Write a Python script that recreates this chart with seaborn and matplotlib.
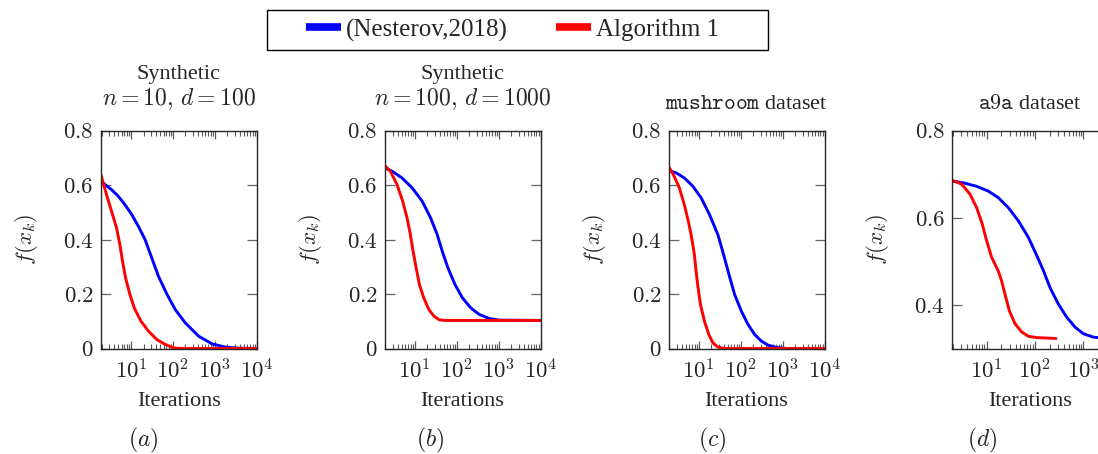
import numpy as np
import pandas as pd
import matplotlib
matplotlib.use("Agg")
import matplotlib.pyplot as plt
import seaborn as sns
from matplotlib.ticker import FixedLocator, FixedFormatter, NullFormatter
from matplotlib.lines import Line2D
from matplotlib.patches import Rectangle

# ---------------- data ----------------
methods = ["(Nesterov,2018)", "Algorithm 1"]
colors = {"(Nesterov,2018)": "#0000ff", "Algorithm 1": "#ff0000"}

# panel (a): Synthetic n=10, d=100
a_nest_x = [1.9, 3.44, 4.97, 7.18, 10.4, 15.0, 21.7, 31.3, 45.3, 71.8, 114, 198, 413, 863, 1803, 3767, 10000]
a_nest_y = [0.614, 0.583, 0.559, 0.528, 0.492, 0.449, 0.400, 0.333, 0.265, 0.200, 0.143, 0.094, 0.045, 0.017, 0.005, 0.001, 0.0]
a_alg_x = [1.9, 2.61, 3.44, 4.53, 5.44, 6.31, 7.45, 9.46, 12.0, 17.4, 26.1, 41.3, 65.5, 104, 164, 10000]
a_alg_y = [0.641, 0.565, 0.504, 0.443, 0.382, 0.320, 0.259, 0.198, 0.149, 0.100, 0.064, 0.033, 0.015, 0.002, 0.0, 0.0]

# panel (b): Synthetic n=100, d=1000
b_nest_x = [1.9, 2.86, 4.97, 8.63, 15.0, 23.8, 34.4, 45.3, 61.9, 91.2, 137, 217, 344, 597, 1038, 10000]
b_nest_y = [0.663, 0.651, 0.626, 0.590, 0.541, 0.480, 0.418, 0.357, 0.296, 0.235, 0.186, 0.149, 0.125, 0.110, 0.104, 0.103]
b_alg_x = [1.9, 2.61, 3.77, 5.15, 6.55, 7.87, 9.12, 10.8, 12.9, 16.4, 21.7, 28.6, 37.7, 49.7, 10000]
b_alg_y = [0.672, 0.651, 0.602, 0.541, 0.480, 0.418, 0.357, 0.296, 0.235, 0.186, 0.143, 0.119, 0.106, 0.103, 0.103]

# panel (c): mushroom dataset
c_nest_x = [1.9, 2.86, 4.53, 7.18, 11.4, 18.0, 28.6, 39.1, 52.5, 71.8, 104, 150, 217, 313, 453, 718, 1247, 10000]
c_nest_y = [0.653, 0.645, 0.626, 0.596, 0.553, 0.492, 0.418, 0.345, 0.272, 0.198, 0.137, 0.088, 0.051, 0.027, 0.012, 0.004, 0.0, 0.0]
c_alg_x = [1.9, 2.47, 3.44, 4.53, 5.65, 6.79, 7.87, 8.63, 9.64, 11.0, 13.7, 17.4, 21.7, 28.6, 41.3, 10000]
c_alg_y = [0.668, 0.639, 0.590, 0.528, 0.467, 0.406, 0.345, 0.284, 0.223, 0.161, 0.100, 0.051, 0.021, 0.005, 0.0, 0.0]

# panel (d): a9a dataset
d_nest_x = [1.92, 3.29, 6.21, 10.8, 17.4, 28.1, 45.2, 72.8, 105, 149, 204, 304, 452, 673, 1000, 1610, 2042, 3240]
d_nest_y = [0.684, 0.680, 0.672, 0.661, 0.646, 0.623, 0.593, 0.555, 0.517, 0.479, 0.440, 0.402, 0.372, 0.349, 0.334, 0.326, 0.325, 0.324]
d_alg_x = [1.92, 3.04, 4.52, 6.21, 8.13, 10.0, 12.7, 17.4, 20.4, 23.9, 29.4, 38.5, 53.0, 72.8, 108, 272]
d_alg_y = [0.686, 0.677, 0.654, 0.623, 0.585, 0.547, 0.509, 0.478, 0.455, 0.425, 0.387, 0.357, 0.338, 0.328, 0.325, 0.323]

panel_letters = ["(a)", "(b)", "(c)", "(d)"]
xmaj_ticks = [[10, 100, 1000, 10000]] * 3 + [[10, 100, 1000]]
xmaj_labels = [[r"$10^{1}$", r"$10^{2}$", r"$10^{3}$", r"$10^{4}$"]] * 3 + [[r"$10^{1}$", r"$10^{2}$", r"$10^{3}$"]]
y_ticks = [[0, 0.2, 0.4, 0.6, 0.8]] * 3 + [[0.4, 0.6, 0.8]]
y_labels = [["0", "0.2", "0.4", "0.6", "0.8"]] * 3 + [["0.4", "0.6", "0.8"]]
xlims = [(1.9, 1e4), (1.9, 1e4), (1.9, 1e4), (1.92, 3240)]
ylims = [(0, 0.8), (0, 0.8), (0, 0.8), (0.3, 0.8)]

panels = [
    (a_nest_x, a_nest_y, a_alg_x, a_alg_y),
    (b_nest_x, b_nest_y, b_alg_x, b_alg_y),
    (c_nest_x, c_nest_y, c_alg_x, c_alg_y),
    (d_nest_x, d_nest_y, d_alg_x, d_alg_y),
]

# minor tick positions for the log axes (2..9 x 10^k)
minor_ticks = [m * 10.0 ** e for e in range(0, 4) for m in range(2, 10)]

# ---------------- style ----------------
sns.set_style("white")
plt.rcParams["font.family"] = ["Liberation Serif", "DejaVu Serif"]
plt.rcParams["mathtext.fontset"] = "cm"
plt.rcParams["xtick.minor.visible"] = True

W, H = 1098, 454
fig = plt.figure(figsize=(W / 100, H / 100), dpi=100)

lefts = [100.7, 384.5, 668.5, 952.0]
ax_w = 156
top_px, bot_px = 130.5, 348.5

def fx(px):
    return px / W

def fy(py):
    return 1 - py / H

axes = []
for i, (nx, ny, ax_, ay) in enumerate(panels):
    ax = fig.add_axes([fx(lefts[i]), fy(bot_px), ax_w / W, (bot_px - top_px) / H])
    axes.append(ax)
    df = pd.DataFrame({
        "iter": list(nx) + list(ax_),
        "f": list(ny) + list(ay),
        "method": [methods[0]] * len(nx) + [methods[1]] * len(ax_),
    })
    sns.lineplot(data=df, x="iter", y="f", hue="method", palette=colors,
                 hue_order=methods, ax=ax, legend=False, linewidth=2.1,
                 estimator=None, sort=False)
    ax.set_xscale("log")
    ax.set_xlim(*xlims[i])
    ax.set_ylim(*ylims[i])
    ax.xaxis.set_major_locator(FixedLocator(xmaj_ticks[i]))
    ax.xaxis.set_major_formatter(FixedFormatter(xmaj_labels[i]))
    ax.xaxis.set_minor_locator(FixedLocator(minor_ticks))
    ax.xaxis.set_minor_formatter(NullFormatter())
    ax.yaxis.set_major_locator(FixedLocator(y_ticks[i]))
    ax.yaxis.set_major_formatter(FixedFormatter(["$" + s + "$" for s in y_labels[i]]))
    ax.yaxis.set_minor_locator(FixedLocator([]))
    ax.tick_params(axis="x", which="major", direction="in", length=5.5, width=0.9,
                   color="0.35", labelsize=16.5, top=True, bottom=True, pad=8)
    ax.tick_params(axis="y", which="major", direction="in", length=7, width=0.9,
                   color="0.4", labelsize=16.5, left=True, right=True, pad=5)
    ax.tick_params(axis="x", which="minor", direction="in", length=3.5, width=0.8,
                   color="0.35", top=True, bottom=True)
    for sp in ax.spines.values():
        sp.set_color("0.15")
        sp.set_linewidth(1.0)
        sp.set_visible(True)
    ax.set_xlabel("Iterations", fontsize=16)
    ax.xaxis.set_label_coords(0.5, -0.20)
    ax.set_ylabel(r"$f(x_k)$", fontsize=16.5)
    ax.yaxis.set_label_coords(-0.39, 0.5)

# titles
axes[0].text(0.5, 1.235, "Synthetic", transform=axes[0].transAxes, ha="center", va="baseline", fontsize=16)
axes[0].text(0.5, 1.114, r"$n=10,\,d=100$", transform=axes[0].transAxes, ha="center", va="baseline", fontsize=17)
axes[1].text(0.5, 1.235, "Synthetic", transform=axes[1].transAxes, ha="center", va="baseline", fontsize=16)
axes[1].text(0.5, 1.114, r"$n=100,\,d=1000$", transform=axes[1].transAxes, ha="center", va="baseline", fontsize=17)
axes[2].text(0.5, 1.10, r"$\mathtt{mushroom}$ dataset", transform=axes[2].transAxes, ha="center", va="baseline", fontsize=16)
axes[3].text(0.5, 1.10, r"$\mathtt{a9a}$ dataset", transform=axes[3].transAxes, ha="center", va="baseline", fontsize=16)

# panel letters
letter_x = [143, 430, 712, 982]
for lx, lt in zip(letter_x, panel_letters):
    fig.text(fx(lx), fy(440), "$" + lt + "$", ha="center", va="center", fontsize=17)

# legend (frame drawn separately to get the wide horizontal padding)
handles = [Line2D([], [], color=colors[m], linewidth=5.5, solid_capstyle="butt") for m in methods]
leg = fig.legend(handles, methods, loc="center", bbox_to_anchor=(fx(512.5), fy(30)),
                 ncol=2, fontsize=18, frameon=False, handlelength=1.4,
                 handletextpad=0.2, columnspacing=1.95, borderpad=0.0)
fig.patches.append(Rectangle((fx(267), fy(50)), (768 - 267) / W, 40 / H,
                             transform=fig.transFigure, fill=False,
                             edgecolor="black", linewidth=1.0))

fig.savefig("out.png", dpi=100)
